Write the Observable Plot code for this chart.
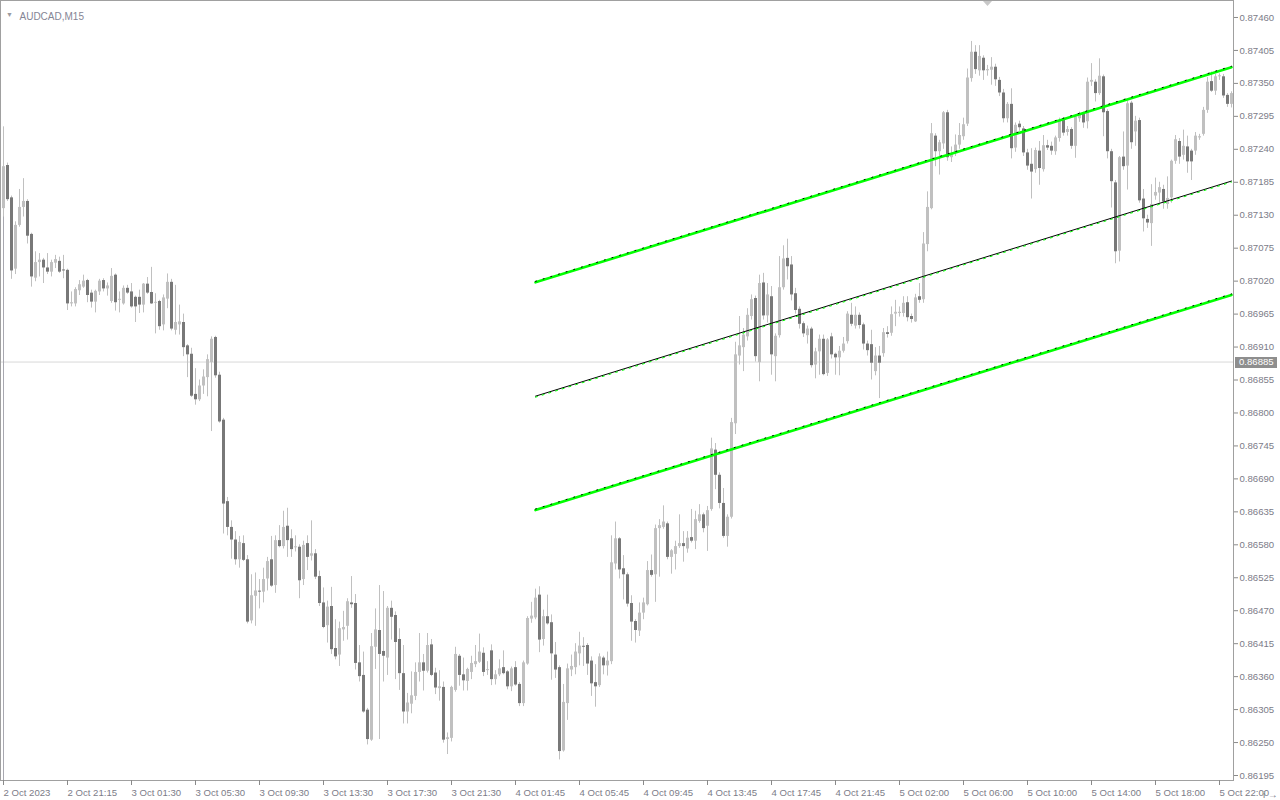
<!DOCTYPE html>
<html><head><meta charset="utf-8">
<script src="https://cdn.jsdelivr.net/npm/d3@7"></script>
<script src="https://cdn.jsdelivr.net/npm/@observablehq/plot@0.6"></script>
<style>
html,body{margin:0;padding:0;background:#fff;}
#chart{position:relative;width:1280px;height:800px;overflow:hidden;}
</style></head><body><div id="chart"></div>
<script>
const symbolLabel = "AUDCAD,M15";

const opens = [
0.87141,0.87213,0.87159,0.87040,0.87113,0.87143,0.87153,0.87098,0.87025,0.87051,
0.87055,0.87042,0.87035,0.87050,0.87053,0.87038,0.87038,0.86982,0.86982,0.87004,
0.87010,0.87021,0.87000,0.86985,0.87002,0.87021,0.87007,0.86986,0.87030,0.86988,
0.86982,0.87008,0.87002,0.86993,0.86993,0.86980,0.87015,0.87001,0.86983,0.86986,
0.86947,0.86990,0.87018,0.86938,0.86947,0.86951,0.86912,0.86898,0.86831,0.86822,
0.86845,0.86859,0.86884,0.86926,0.86863,0.86788,0.86652,0.86609,0.86588,0.86555,
0.86582,0.86555,0.86453,0.86494,0.86502,0.86501,0.86523,0.86555,0.86512,0.86587,
0.86577,0.86611,0.86590,0.86575,0.86576,0.86522,0.86582,0.86561,0.86565,0.86527,
0.86483,0.86445,0.86477,0.86407,0.86396,0.86438,0.86444,0.86483,0.86482,0.86383,
0.86362,0.86304,0.86254,0.86409,0.86437,0.86402,0.86391,0.86474,0.86462,0.86422,
0.86365,0.86301,0.86314,0.86327,0.86367,0.86383,0.86369,0.86413,0.86366,0.86340,
0.86342,0.86255,0.86257,0.86337,0.86394,0.86363,0.86352,0.86367,0.86380,0.86384,
0.86399,0.86370,0.86403,0.86355,0.86363,0.86375,0.86368,0.86343,0.86375,0.86347,
0.86315,0.86381,0.86456,0.86458,0.86496,0.86422,0.86460,0.86450,0.86396,0.86375,
0.86236,0.86315,0.86371,0.86375,0.86398,0.86410,0.86412,0.86386,0.86350,0.86345,
0.86391,0.86378,0.86385,0.86548,0.86590,0.86540,0.86530,0.86482,0.86452,0.86436,
0.86466,0.86480,0.86537,0.86530,0.86607,0.86609,0.86615,0.86559,0.86564,0.86577,
0.86582,0.86573,0.86592,0.86586,0.86619,0.86630,0.86611,0.86639,0.86738,0.86696,
0.86649,0.86594,0.86626,0.86782,0.86895,0.86909,0.86927,0.86961,0.86991,0.86884,
0.87017,0.86962,0.86994,0.86894,0.86929,0.87009,0.87058,0.87047,0.86999,0.86973,
0.86949,0.86929,0.86940,0.86880,0.86902,0.86923,0.86866,0.86927,0.86898,0.86892,
0.86903,0.86919,0.86963,0.86945,0.86963,0.86947,0.86915,0.86914,0.86869,0.86895,
0.86899,0.86934,0.86933,0.86965,0.86966,0.86966,0.86984,0.86961,0.86952,0.86994,
0.86989,0.87081,0.87141,0.87262,0.87236,0.87249,0.87301,0.87226,0.87233,0.87247,
0.87261,0.87282,0.87358,0.87402,0.87371,0.87392,0.87371,0.87372,0.87377,0.87355,
0.87334,0.87291,0.87315,0.87242,0.87282,0.87274,0.87234,0.87215,0.87206,0.87237,
0.87206,0.87246,0.87245,0.87236,0.87258,0.87288,0.87268,0.87273,0.87245,0.87291,
0.87298,0.87286,0.87352,0.87352,0.87333,0.87361,0.87303,0.87236,0.87184,0.87070,
0.87227,0.87212,0.87317,0.87269,0.87288,0.87157,0.87123,0.87116,0.87162,0.87167,
0.87173,0.87148,0.87159,0.87220,0.87253,0.87230,0.87244,0.87237,0.87237,0.87259,
0.87265,0.87305,0.87353,0.87337,0.87361,0.87361,0.87330,0.87315];

const highs = [
0.87277,0.87217,0.87162,0.87119,0.87173,0.87191,0.87156,0.87100,0.87069,0.87066,
0.87058,0.87066,0.87055,0.87063,0.87060,0.87063,0.87040,0.87002,0.87009,0.87021,
0.87030,0.87023,0.87005,0.87005,0.87023,0.87024,0.87017,0.87041,0.87032,0.87002,
0.87012,0.87013,0.87016,0.86995,0.87005,0.87016,0.87026,0.87043,0.86999,0.86988,
0.86997,0.87032,0.87023,0.87013,0.86980,0.86965,0.86914,0.86908,0.86874,0.86855,
0.86872,0.86897,0.86927,0.86928,0.86868,0.86791,0.86659,0.86620,0.86602,0.86594,
0.86595,0.86562,0.86530,0.86533,0.86522,0.86541,0.86559,0.86594,0.86595,0.86612,
0.86636,0.86641,0.86605,0.86595,0.86580,0.86586,0.86595,0.86620,0.86572,0.86536,
0.86508,0.86486,0.86509,0.86455,0.86451,0.86469,0.86490,0.86527,0.86497,0.86412,
0.86401,0.86307,0.86432,0.86473,0.86512,0.86502,0.86477,0.86486,0.86468,0.86440,
0.86412,0.86332,0.86368,0.86383,0.86432,0.86397,0.86432,0.86422,0.86374,0.86370,
0.86351,0.86266,0.86344,0.86409,0.86397,0.86391,0.86374,0.86394,0.86412,0.86431,
0.86408,0.86385,0.86413,0.86370,0.86388,0.86403,0.86370,0.86376,0.86385,0.86350,
0.86386,0.86460,0.86484,0.86506,0.86510,0.86471,0.86496,0.86463,0.86417,0.86378,
0.86347,0.86381,0.86396,0.86415,0.86434,0.86425,0.86415,0.86393,0.86380,0.86398,
0.86394,0.86401,0.86595,0.86618,0.86592,0.86562,0.86533,0.86495,0.86455,0.86483,
0.86491,0.86552,0.86563,0.86613,0.86622,0.86645,0.86618,0.86572,0.86586,0.86630,
0.86602,0.86602,0.86639,0.86636,0.86647,0.86633,0.86644,0.86758,0.86749,0.86700,
0.86674,0.86630,0.86791,0.86918,0.86961,0.86941,0.86974,0.86997,0.86995,0.87030,
0.87033,0.87016,0.87011,0.86932,0.87061,0.87079,0.87090,0.87061,0.87008,0.86977,
0.86952,0.86945,0.86943,0.86908,0.86930,0.86930,0.86924,0.86933,0.86900,0.86911,
0.86926,0.86969,0.86983,0.86977,0.86967,0.86950,0.86920,0.86938,0.86909,0.86911,
0.86941,0.86944,0.86977,0.86988,0.86977,0.86994,0.86994,0.86965,0.86998,0.87016,
0.87101,0.87169,0.87283,0.87266,0.87255,0.87303,0.87305,0.87244,0.87264,0.87283,
0.87292,0.87374,0.87420,0.87413,0.87413,0.87396,0.87380,0.87393,0.87382,0.87360,
0.87340,0.87318,0.87341,0.87284,0.87287,0.87278,0.87240,0.87241,0.87242,0.87253,
0.87263,0.87255,0.87252,0.87262,0.87292,0.87292,0.87278,0.87276,0.87298,0.87302,
0.87302,0.87359,0.87383,0.87356,0.87391,0.87364,0.87306,0.87240,0.87188,0.87228,
0.87269,0.87320,0.87320,0.87295,0.87292,0.87173,0.87130,0.87181,0.87192,0.87185,
0.87180,0.87194,0.87222,0.87263,0.87258,0.87272,0.87262,0.87240,0.87268,0.87265,
0.87310,0.87360,0.87369,0.87365,0.87366,0.87365,0.87333,0.87336];

const lows = [
0.87127,0.87153,0.87023,0.87031,0.87110,0.87127,0.87082,0.87010,0.87019,0.87027,
0.87016,0.87031,0.87027,0.87041,0.87033,0.87024,0.86971,0.86977,0.86977,0.86996,
0.87008,0.86984,0.86975,0.86967,0.86996,0.87002,0.86995,0.86983,0.86970,0.86967,
0.86980,0.86998,0.86975,0.86951,0.86966,0.86967,0.86998,0.86981,0.86932,0.86938,
0.86937,0.86974,0.86937,0.86930,0.86930,0.86894,0.86859,0.86826,0.86813,0.86819,
0.86831,0.86827,0.86769,0.86858,0.86783,0.86598,0.86595,0.86556,0.86546,0.86541,
0.86552,0.86448,0.86448,0.86444,0.86473,0.86483,0.86503,0.86509,0.86499,0.86575,
0.86573,0.86559,0.86559,0.86568,0.86490,0.86512,0.86537,0.86553,0.86522,0.86477,
0.86440,0.86416,0.86397,0.86388,0.86377,0.86419,0.86421,0.86474,0.86371,0.86351,
0.86299,0.86246,0.86252,0.86372,0.86255,0.86351,0.86362,0.86421,0.86355,0.86337,
0.86281,0.86281,0.86298,0.86320,0.86351,0.86336,0.86366,0.86360,0.86330,0.86319,
0.86249,0.86230,0.86251,0.86334,0.86344,0.86336,0.86336,0.86355,0.86375,0.86382,
0.86360,0.86362,0.86345,0.86346,0.86360,0.86363,0.86338,0.86335,0.86344,0.86310,
0.86310,0.86379,0.86449,0.86455,0.86400,0.86411,0.86446,0.86354,0.86357,0.86221,
0.86234,0.86287,0.86360,0.86363,0.86378,0.86377,0.86362,0.86327,0.86309,0.86342,
0.86363,0.86361,0.86380,0.86538,0.86523,0.86488,0.86476,0.86419,0.86416,0.86427,
0.86455,0.86478,0.86526,0.86484,0.86526,0.86606,0.86555,0.86531,0.86538,0.86574,
0.86551,0.86566,0.86583,0.86572,0.86616,0.86600,0.86569,0.86636,0.86672,0.86640,
0.86591,0.86576,0.86623,0.86764,0.86880,0.86869,0.86920,0.86955,0.86885,0.86852,
0.86955,0.86950,0.86863,0.86852,0.86925,0.87005,0.87022,0.86987,0.86965,0.86940,
0.86926,0.86915,0.86875,0.86857,0.86863,0.86862,0.86861,0.86890,0.86863,0.86862,
0.86900,0.86915,0.86944,0.86940,0.86940,0.86905,0.86895,0.86855,0.86862,0.86824,
0.86893,0.86925,0.86928,0.86944,0.86960,0.86960,0.86952,0.86950,0.86951,0.86983,
0.86983,0.87069,0.87139,0.87211,0.87197,0.87240,0.87220,0.87218,0.87228,0.87240,
0.87255,0.87278,0.87352,0.87365,0.87362,0.87355,0.87362,0.87347,0.87345,0.87328,
0.87284,0.87284,0.87224,0.87235,0.87270,0.87228,0.87205,0.87157,0.87200,0.87180,
0.87202,0.87238,0.87230,0.87230,0.87252,0.87262,0.87262,0.87240,0.87225,0.87285,
0.87275,0.87274,0.87345,0.87319,0.87330,0.87261,0.87224,0.87142,0.87049,0.87052,
0.87205,0.87172,0.87240,0.87245,0.87150,0.87102,0.87108,0.87078,0.87155,0.87150,
0.87140,0.87140,0.87150,0.87215,0.87215,0.87222,0.87200,0.87188,0.87230,0.87255,
0.87262,0.87300,0.87335,0.87330,0.87355,0.87325,0.87310,0.87309];

const closes = [
0.87211,0.87156,0.87037,0.87113,0.87143,0.87153,0.87095,0.87027,0.87051,0.87055,
0.87042,0.87035,0.87051,0.87056,0.87035,0.87037,0.86982,0.86984,0.87006,0.87014,
0.87020,0.86996,0.86985,0.87003,0.87020,0.87007,0.87012,0.87028,0.86984,0.86989,
0.87008,0.87000,0.86977,0.86977,0.86980,0.87015,0.87000,0.86982,0.86984,0.86944,
0.86992,0.87018,0.86940,0.86951,0.86952,0.86909,0.86897,0.86828,0.86822,0.86845,
0.86860,0.86889,0.86923,0.86862,0.86785,0.86648,0.86609,0.86588,0.86555,0.86584,
0.86554,0.86451,0.86495,0.86503,0.86501,0.86522,0.86552,0.86511,0.86587,0.86577,
0.86609,0.86587,0.86572,0.86576,0.86520,0.86579,0.86559,0.86565,0.86526,0.86482,
0.86442,0.86476,0.86405,0.86393,0.86440,0.86442,0.86485,0.86480,0.86382,0.86360,
0.86301,0.86255,0.86410,0.86438,0.86397,0.86394,0.86474,0.86459,0.86417,0.86365,
0.86301,0.86316,0.86328,0.86367,0.86383,0.86369,0.86412,0.86362,0.86341,0.86343,
0.86254,0.86258,0.86342,0.86397,0.86362,0.86353,0.86372,0.86382,0.86385,0.86401,
0.86367,0.86371,0.86355,0.86363,0.86373,0.86365,0.86343,0.86373,0.86346,0.86315,
0.86383,0.86457,0.86461,0.86491,0.86421,0.86460,0.86448,0.86398,0.86371,0.86235,
0.86317,0.86373,0.86377,0.86401,0.86411,0.86409,0.86381,0.86348,0.86343,0.86393,
0.86378,0.86386,0.86550,0.86590,0.86538,0.86530,0.86481,0.86451,0.86437,0.86466,
0.86483,0.86537,0.86529,0.86607,0.86612,0.86618,0.86559,0.86570,0.86577,0.86582,
0.86577,0.86591,0.86586,0.86622,0.86630,0.86607,0.86637,0.86740,0.86696,0.86649,
0.86594,0.86626,0.86784,0.86897,0.86912,0.86930,0.86963,0.86989,0.86894,0.87016,
0.86962,0.86997,0.86897,0.86928,0.87009,0.87057,0.87044,0.86997,0.86971,0.86948,
0.86932,0.86940,0.86879,0.86902,0.86923,0.86864,0.86922,0.86897,0.86892,0.86903,
0.86915,0.86965,0.86948,0.86963,0.86946,0.86915,0.86904,0.86883,0.86895,0.86883,
0.86934,0.86931,0.86964,0.86968,0.86968,0.86983,0.86959,0.86956,0.86992,0.86988,
0.87082,0.87143,0.87266,0.87236,0.87251,0.87301,0.87226,0.87231,0.87247,0.87263,
0.87281,0.87359,0.87402,0.87373,0.87395,0.87371,0.87373,0.87377,0.87356,0.87334,
0.87291,0.87315,0.87241,0.87280,0.87276,0.87234,0.87212,0.87202,0.87238,0.87208,
0.87246,0.87242,0.87237,0.87259,0.87288,0.87267,0.87273,0.87245,0.87294,0.87297,
0.87284,0.87352,0.87355,0.87333,0.87362,0.87301,0.87236,0.87186,0.87069,0.87226,
0.87211,0.87316,0.87251,0.87287,0.87154,0.87124,0.87117,0.87148,0.87168,0.87176,
0.87152,0.87158,0.87220,0.87256,0.87227,0.87245,0.87219,0.87219,0.87262,0.87261,
0.87305,0.87352,0.87337,0.87361,0.87362,0.87329,0.87315,0.87333];

const priceTicks = [0.87460,0.87405,0.87350,0.87295,0.87240,0.87185,0.87130,0.87075,
  0.87020,0.86965,0.86910,0.86855,0.86800,0.86745,0.86690,0.86635,0.86580,0.86525,
  0.86470,0.86415,0.86360,0.86305,0.86250,0.86195];

const timeTickBars = [0,16,32,48,64,80,96,112,128,144,160,176,192,208,224,240,256,272,288,304];
const timeTickLabels = ["2 Oct 2023","2 Oct 21:15","3 Oct 01:30","3 Oct 05:30","3 Oct 09:30",
  "3 Oct 13:30","3 Oct 17:30","3 Oct 21:30","4 Oct 01:45","4 Oct 05:45","4 Oct 09:45",
  "4 Oct 13:45","4 Oct 17:45","4 Oct 21:45","5 Oct 02:00","5 Oct 06:00","5 Oct 10:00",
  "5 Oct 14:00","5 Oct 18:00","5 Oct 22:00"];

const bidPrice = 0.86885;
const leftEdgeTop = 0.87277;

const channelBars = [133, 307];
const channelUpper = [0.87018, 0.87377];
const channelMiddle = [0.86828, 0.87187];
const channelLower = [0.86638, 0.86997];

// ---- build ----
const onePx = 0.00055 / 33;
const yTop = 0.87460 + 17 * onePx;
const yBot = 0.86195 - 5 * onePx;
const FONT = "'Liberation Sans', Arial, sans-serif";
const TEXT_COLOR = "#7c7c88";

const candles = opens.map((o, i) => {
  const c = closes[i];
  const lo = Math.min(o, c);
  const hi = Math.max(Math.max(o, c), lo + onePx);
  return {i, o, c, h: Math.max(highs[i], hi), l: Math.min(lows[i], lo), bLo: lo, bHi: hi,
    col: c >= o ? "#c0c0c0" : "#787878"};
});
const chan = (vals) => channelBars.map((b, k) => ({i: b, p: vals[k]}));

const chart = Plot.plot({
  width: 1280, height: 800,
  marginTop: 0, marginLeft: 0, marginRight: 47, marginBottom: 20,
  style: {background: "#fff", fontFamily: FONT, fontSize: "9.6px", color: TEXT_COLOR},
  x: {domain: [-0.75, 307.5], axis: null},
  y: {domain: [yBot, yTop], axis: null},
  marks: [
    Plot.ruleY([bidPrice], {stroke: "#d8d8d8"}),
    Plot.ruleX([0], {y1: yBot, y2: leftEdgeTop, stroke: "#a8a8b0"}),
    Plot.ruleX(candles, {x: "i", y1: "l", y2: "h", stroke: "#c0c0c0"}),
    Plot.ruleX(candles, {x: "i", y1: "bLo", y2: "bHi", stroke: "col", strokeWidth: 3}),
    Plot.line(chan(channelUpper), {x: "i", y: "p", stroke: "#00ff00", strokeWidth: 2.6}),
    Plot.line(chan(channelUpper), {x: "i", y: "p", stroke: "#000", strokeWidth: 1, strokeDasharray: "1 7", dy: -1}),
    Plot.line(chan(channelLower), {x: "i", y: "p", stroke: "#00ff00", strokeWidth: 2.6}),
    Plot.line(chan(channelLower), {x: "i", y: "p", stroke: "#000", strokeWidth: 1, strokeDasharray: "1 7", dy: -1}),
    Plot.line(chan(channelMiddle), {x: "i", y: "p", stroke: "#000", strokeWidth: 1}),
    Plot.line(chan(channelMiddle), {x: "i", y: "p", stroke: "#00ff00", strokeWidth: 1, strokeDasharray: "2 5", dy: 1}),
    Plot.frame({stroke: "#a0a0a0"}),
    Plot.axisY(priceTicks, {anchor: "right", tickSize: 4, tickPadding: 2, tickFormat: d3.format(".5f"),
      stroke: "#8a8a8a", fill: TEXT_COLOR}),
    Plot.axisX(timeTickBars, {anchor: "bottom", tickSize: 5, tickPadding: 4, textAnchor: "start",
      tickFormat: d => timeTickLabels[timeTickBars.indexOf(d)], stroke: "#8a8a8a", fill: TEXT_COLOR}),
    Plot.text(["\u25BC"], {frameAnchor: "top-left", dx: 9, dy: 12, fontSize: 7, fill: "#9a9aa0", textAnchor: "middle"}),
    Plot.text([symbolLabel], {frameAnchor: "top-left", dx: 19, dy: 12, fontSize: 10, fill: "#858595", textAnchor: "start"})
  ]
});
document.getElementById("chart").appendChild(chart);

// current bid label in the right margin, positioned by the y scale
const yScale = chart.scale("y");
const by = Math.round(yScale.apply(bidPrice));
const g = d3.select(chart).append("g");
g.append("rect").attr("x", 1235).attr("y", by - 5).attr("width", 42).attr("height", 11).attr("fill", "#8e8e8e");
g.append("text").attr("x", 1239).attr("y", by).attr("dy", "0.35em").attr("text-anchor", "start")
  .attr("font-family", FONT).attr("font-size", 9.6).attr("fill", "#ffffff")
  .text(d3.format(".5f")(bidPrice));
// chart-shift marker at the top
g.append("path").attr("d", "M983,1 L992,1 L987.5,6 Z").attr("fill", "#c8c8c8");
</script></body></html>
